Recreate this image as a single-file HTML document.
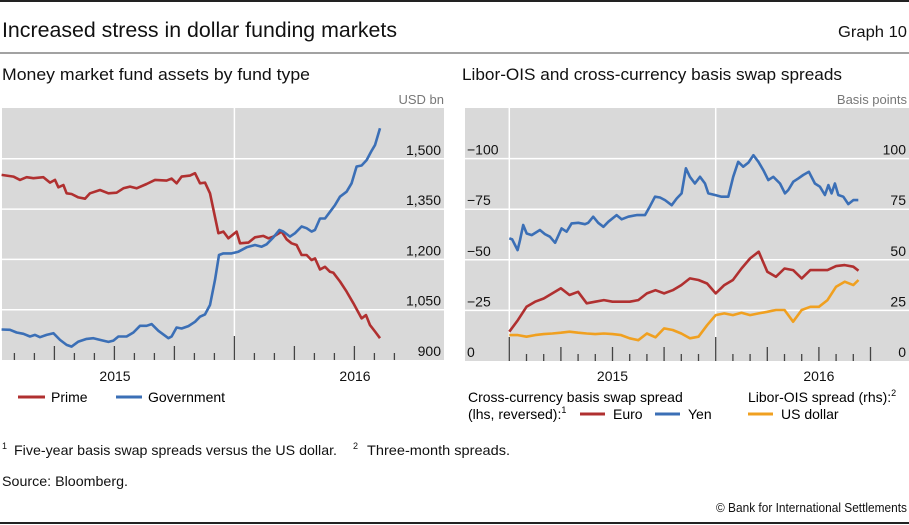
<!DOCTYPE html>
<html><head><meta charset="utf-8"><style>
html,body{margin:0;padding:0;background:#fff;}
svg{display:block;font-family:"Liberation Sans",sans-serif;}
</style></head><body>
<svg id="root" width="909" height="525" viewBox="0 0 909 525" xmlns="http://www.w3.org/2000/svg">
<line x1="0" y1="1" x2="909" y2="1" stroke="#222" stroke-width="2"/>
<text x="2" y="37" font-size="21" fill="#111" textLength="395" lengthAdjust="spacingAndGlyphs">Increased stress in dollar funding markets</text>
<text x="907" y="37" font-size="16" fill="#111" text-anchor="end" textLength="69" lengthAdjust="spacingAndGlyphs">Graph 10</text>
<line x1="0" y1="53" x2="909" y2="53" stroke="#444" stroke-width="1"/>
<text x="2" y="80" font-size="17" fill="#111" textLength="308" lengthAdjust="spacingAndGlyphs">Money market fund assets by fund type</text>
<text x="462" y="80" font-size="17" fill="#111" textLength="380" lengthAdjust="spacingAndGlyphs">Libor-OIS and cross-currency basis swap spreads</text>
<text x="444" y="104" font-size="13" fill="#777" text-anchor="end">USD bn</text>
<text x="907" y="104" font-size="13" fill="#777" text-anchor="end">Basis points</text>
<g id="left"></g>
<g id="right"></g>
<!-- legends -->
<line x1="18" y1="397" x2="45" y2="397" stroke="#b03030" stroke-width="3"/>
<text x="51" y="402" font-size="14">Prime</text>
<line x1="116" y1="397" x2="142" y2="397" stroke="#3b6fb6" stroke-width="3"/>
<text x="148" y="402" font-size="14">Government</text>
<text x="468" y="402" font-size="14">Cross-currency basis swap spread</text>
<text x="468" y="419" font-size="14">(lhs, reversed):<tspan font-size="9" dy="-6">1</tspan></text>
<line x1="580" y1="414" x2="605" y2="414" stroke="#b03030" stroke-width="3"/>
<text x="613" y="419" font-size="14">Euro</text>
<line x1="655" y1="414" x2="680" y2="414" stroke="#3b6fb6" stroke-width="3"/>
<text x="688" y="419" font-size="14">Yen</text>
<text x="748" y="402" font-size="14">Libor-OIS spread (rhs):<tspan font-size="9" dy="-6">2</tspan></text>
<line x1="748" y1="414" x2="773" y2="414" stroke="#f0a020" stroke-width="3"/>
<text x="781" y="419" font-size="14">US dollar</text>
<!-- footer -->
<text x="2" y="449" font-size="9" fill="#111">1</text>
<text x="14" y="455" font-size="14" fill="#111" textLength="323" lengthAdjust="spacingAndGlyphs">Five-year basis swap spreads versus the US dollar.</text>
<text x="353" y="449" font-size="9" fill="#111">2</text>
<text x="367" y="455" font-size="14" fill="#111" textLength="143" lengthAdjust="spacingAndGlyphs">Three-month spreads.</text>
<text x="2" y="486" font-size="14" fill="#111" textLength="126" lengthAdjust="spacingAndGlyphs">Source: Bloomberg.</text>
<text x="907" y="512" font-size="13" fill="#111" text-anchor="end" textLength="191" lengthAdjust="spacingAndGlyphs">© Bank for International Settlements</text>
<line x1="0" y1="523" x2="909" y2="523" stroke="#222" stroke-width="2"/>
</svg>
<script>
// ---- Left panel data (x = months from panel start, values USD bn) ----
const primeMonths = [0.08,0.67,1,1.33,1.67,2.17,2.5,2.75,2.92,3.17,3.33,3.58,3.92,4.25,4.5,5,5.42,5.83,6.17,6.5,6.83,7.33,7.75,8.33,8.58,8.83,9.08,9.5,9.75,10,10.25,10.5,10.92,11.17,11.42,11.83,12,12.42,12.75,13.17,13.42,13.67,14.08,14.33,14.58,14.83,15.08,15.33,15.58,15.75,16,16.25,16.5,16.67,17,17.33,17.67,18.08,18.3,18.5,18.75,19];
const primeValues = [1452,1447,1437,1445,1442,1445,1429,1437,1415,1422,1397,1395,1385,1381,1397,1407,1397,1399,1412,1417,1412,1425,1437,1435,1441,1427,1447,1450,1457,1427,1429,1397,1278,1283,1263,1283,1248,1250,1266,1270,1263,1268,1283,1260,1248,1243,1213,1213,1198,1203,1170,1178,1163,1160,1134,1104,1069,1024,1034,1004,985,965];
const govMonths = [0.08,0.5,0.83,1.17,1.5,1.75,2,2.33,2.67,3,3.33,3.58,3.92,4.33,4.67,5,5.42,5.67,5.92,6.33,6.67,7,7.33,7.58,7.92,8.42,8.58,8.83,9.08,9.42,9.75,10,10.25,10.5,10.75,10.95,11.17,11.58,11.92,12.33,12.75,13.08,13.33,13.67,13.97,14.17,14.5,14.75,15.08,15.33,15.58,15.75,16,16.25,16.5,16.75,17,17.33,17.58,17.83,18.08,18.33,18.58,18.75,19];
const govValues = [991,990,982,978,970,975,968,975,980,960,945,940,955,963,965,960,954,958,970,970,982,1002,1002,1007,987,965,970,997,994,1001,1014,1029,1036,1064,1139,1213,1218,1218,1223,1236,1243,1238,1245,1266,1288,1283,1268,1278,1298,1293,1283,1288,1322,1322,1342,1362,1387,1402,1427,1477,1480,1496,1524,1541,1591];
const leftTicks = [900,1050,1200,1350,1500];
const leftTickLabels = ["900","1,050","1,200","1,350","1,500"];
const leftYears = ["2015","2016"];

// ---- Right panel data (x = months from Jan 2015, values basis points) ----
const yenMonths = [0,0.17,0.33,0.48,0.62,0.81,1.01,1.3,1.78,2.07,2.36,2.66,3.04,3.33,3.62,4.01,4.4,4.59,4.88,5.17,5.47,5.76,6.24,6.53,6.92,7.4,7.89,8.18,8.47,8.76,9.05,9.44,9.73,10.02,10.27,10.5,10.79,11.09,11.38,11.57,11.96,12.34,12.73,13.02,13.31,13.6,13.9,14.19,14.48,14.77,15.06,15.35,15.74,16.03,16.22,16.51,16.8,17.09,17.42,17.77,18.06,18.35,18.55,18.74,18.93,19.13,19.42,19.71,20,20.29];
const yenValues = [-60.6,-60.1,-57.3,-54.8,-59.7,-67.2,-63,-62.2,-64.7,-62.7,-61.4,-58.4,-65.5,-63.9,-68,-68.3,-67.6,-68.3,-71.3,-68.3,-66.3,-68.8,-72.1,-70,-71.3,-72.1,-72.1,-76.5,-81.2,-80.8,-79.5,-77,-80.3,-82.8,-95.2,-91,-87.7,-91,-87.7,-82.8,-82,-81.2,-81.2,-91,-98.4,-96,-98,-101.7,-98.4,-94.3,-89.4,-91,-87.7,-82.8,-84.5,-88.6,-90.2,-91.9,-93.5,-87.7,-86.1,-82,-86.9,-82.8,-87.7,-82,-81.2,-77.5,-79.5,-79.5];
const gridMonths = [0,0.5,1,1.5,2,2.5,3,3.5,4,4.5,5,5.5,6,6.5,7,7.5,8,8.5,9,9.5,10,10.5,11,11.5,12,12.5,13,13.5,14,14.5,15,15.5,16,16.5,17,17.5,18,18.5,19,19.5,20,20.3];
const euroValues = [-14.5,-20.2,-26.8,-29.3,-30.9,-33.4,-35.9,-32.6,-34.2,-28.5,-29.3,-30.1,-29.3,-29.3,-29.3,-30.1,-33.4,-35,-33.4,-35,-37.5,-40.8,-40,-38.3,-33.4,-37.5,-40,-45.7,-50.7,-54,-44.1,-41.6,-45.7,-44.9,-40.8,-44.9,-44.9,-44.9,-46.9,-47.4,-46.6,-44.6];
const usdValues = [12.8,12.8,12,12.8,13.3,13.6,14,14.5,14,13.6,13.3,13.6,13.3,12.8,11.2,10.3,13.6,11.7,16.1,15.3,13.6,11.2,12,17.7,22.7,23.5,22.7,23.8,22.7,23.5,24.3,25.2,25.2,19.4,25.2,26.8,26.8,30.1,36.7,39.2,37.5,40];
const rightTicks = [0,25,50,75,100];
const rightLeftLabels = ["0","\u221225","\u221250","\u221275","\u2212100"];
const rightRightLabels = ["0","25","50","75","100"];
const rightYears = ["2015","2016"];

const NS = "http://www.w3.org/2000/svg";
function mk(parent, tag, attrs){const e=document.createElementNS(NS,tag);for(const k in attrs)e.setAttribute(k,attrs[k]);parent.appendChild(e);return e;}

// ---------- LEFT ----------
(function(){
const g=document.getElementById('left');
const X0=2,X1=444,Y0=108,Y1=360;
const xS=m=>X0+(m-0.1)*20;
const yS=v=>Y1-(v-900)*(50.3/150);
const bg=mk(g,'rect',{x:X0,y:Y0,width:X1-X0,height:Y1-Y0,fill:'#d9d9d9'});


leftTicks.forEach((t,i)=>{
  if(i>0){const l=mk(g,'line',{x1:X0,x2:X1,y1:yS(t),y2:yS(t),stroke:'#fff','stroke-width':1.5});
  
  }
  const tx=mk(g,'text',{x:441,y:yS(t)-4,'font-size':14,'text-anchor':'end',fill:'#111'});
  tx.textContent=leftTickLabels[i];
  
  
});
const yl=mk(g,'line',{x1:xS(11.72),x2:xS(11.72),y1:Y0,y2:Y1,stroke:'#fff','stroke-width':1.5});


for(let k=0;k<20;k++){
  const m=0.72+k;const len=(k===11)?24:(k%3===2?14:7);
  const t=mk(g,'line',{x1:xS(m),x2:xS(m),y1:Y1,y2:Y1-len,stroke:'#444','stroke-width':1.3});
  
  
}
leftYears.forEach((y,i)=>{
  const tx=mk(g,'text',{x:xS(5.75+12*i),y:381,'font-size':14,'text-anchor':'middle',fill:'#111'});
  tx.textContent=y;
  
  
});
function series(xs,vs,col,name){
  const d=xs.map((m,i)=>(i?'L':'M')+xS(m).toFixed(1)+','+yS(vs[i]).toFixed(1)).join('');
  const p=mk(g,'path',{d:d,fill:'none',stroke:col,'stroke-width':2.6,'stroke-linejoin':'round'});
  
  
}
series(primeMonths,primeValues,'#b03030','prime-line');
series(govMonths,govValues,'#3b6fb6','government-line');
})();

// ---------- RIGHT ----------
(function(){
const g=document.getElementById('right');
const X0=465,X1=909,Y0=108,Y1=361;
const xS=m=>509.3+m*17.2;
const yS=v=>Y1-v*2.024;
const bg=mk(g,'rect',{x:X0,y:Y0,width:X1-X0,height:Y1-Y0,fill:'#d9d9d9'});


rightTicks.forEach((t,i)=>{
  if(i>0){const l=mk(g,'line',{x1:X0,x2:X1,y1:yS(t),y2:yS(t),stroke:'#fff','stroke-width':1.5});
  
  }
  const a=mk(g,'text',{x:467,y:yS(t)-4,'font-size':14,fill:'#111'});
  a.textContent=rightLeftLabels[i];
  
  
  const b=mk(g,'text',{x:906,y:yS(t)-4,'font-size':14,'text-anchor':'end',fill:'#111'});
  b.textContent=rightRightLabels[i];
  
  
});
[0,12].forEach(m=>{
  const l=mk(g,'line',{x1:xS(m),x2:xS(m),y1:Y0,y2:Y1,stroke:'#fff','stroke-width':1.5});
  
  
});
for(let k=0;k<=21;k++){
  const len=(k%12===0)?24:(k%3===0?14:7);
  const t=mk(g,'line',{x1:xS(k),x2:xS(k),y1:Y1,y2:Y1-len,stroke:'#444','stroke-width':1.3});
  
  
}
rightYears.forEach((y,i)=>{
  const tx=mk(g,'text',{x:xS(6+12*i),y:381,'font-size':14,'text-anchor':'middle',fill:'#111'});
  tx.textContent=y;
  
  
});
function series(xs,vs,col,name,sign){
  const d=xs.map((m,i)=>(i?'L':'M')+xS(m).toFixed(1)+','+yS(sign*vs[i]).toFixed(1)).join('');
  const p=mk(g,'path',{d:d,fill:'none',stroke:col,'stroke-width':2.6,'stroke-linejoin':'round'});
  
  
}
series(gridMonths,usdValues,'#f0a020','us-dollar-line',1);
series(gridMonths,euroValues,'#b03030','euro-line',-1);
series(yenMonths,yenValues,'#3b6fb6','yen-line',-1);
})();
</script>
</body></html>
